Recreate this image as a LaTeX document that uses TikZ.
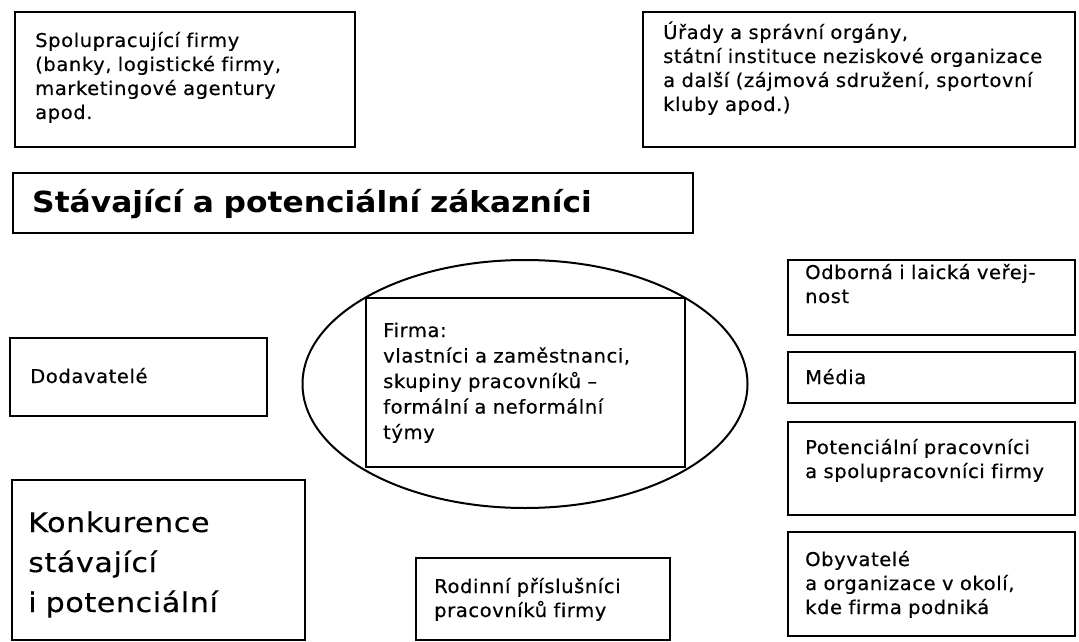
\documentclass[tikz,border=0pt]{standalone}
\usepackage{fontspec}
\setmainfont{DejaVu Sans}
\newfontfamily\smf[FakeStretch=1.03,LetterSpace=3,FakeBold=0.4,Ligatures=NoCommon]{DejaVu Sans}
\newfontfamily\bigf[FakeStretch=1.12,LetterSpace=2,FakeBold=0.3,Ligatures=NoCommon]{DejaVu Sans}
\newfontfamily\headf[FakeStretch=1.08]{DejaVu Sans}
\usetikzlibrary{shapes.geometric}
\tikzset{
  box/.style={draw=black, line width=2.2pt, rectangle, inner sep=0pt, fill=white},
  txt/.style={anchor=base west, inner sep=0pt, text width=420pt, align=left,
              font={\smf\fontsize{19}{24}\selectfont}},
  bigtxt/.style={txt, font={\bigf\fontsize{27}{40}\selectfont}},
  headtxt/.style={txt, text width=680pt, font={\headf\bfseries\fontsize{29}{34}\selectfont}},
}
\begin{document}
\begin{tikzpicture}[x=1pt,y=-1pt]
\useasboundingbox (0,0) rectangle (1079,642);
% boxes
\node[box, minimum width=340pt, minimum height=135pt] (b1) at (185,79.5) {};
\node[box, minimum width=432pt, minimum height=135pt] (b2) at (859,79.5) {};
\node[box, minimum width=680pt, minimum height=60pt] (b3) at (353,203) {};
\node[box, minimum width=257pt, minimum height=78pt] (b4) at (138.5,377) {};
\node[box, minimum width=293pt, minimum height=160pt] (b5) at (158.5,560) {};
\node[box, minimum width=254pt, minimum height=82pt] (b6) at (543,599) {};
\node[draw=black, line width=2pt, ellipse, inner sep=0pt, minimum width=445pt, minimum height=248pt] (ell) at (525,384) {};
\node[box, minimum width=319pt, minimum height=169pt] (firm) at (525.5,382.5) {};
\node[box, minimum width=287pt, minimum height=75pt] (r1) at (931.5,297.5) {};
\node[box, minimum width=287pt, minimum height=51pt] (r2) at (931.5,377.5) {};
\node[box, minimum width=287pt, minimum height=93pt] (r3) at (931.5,468.5) {};
\node[box, minimum width=287pt, minimum height=104pt] (r4) at (931.5,584) {};
% texts
\node[txt] (t1) at (35,47) {Spolupracující firmy\\(banky, logistické firmy,\\marketingové agentury\\apod.};
\node[txt] (t2) at (663,39) {Úřady a správní orgány,\\státní instituce neziskové organizace\\a další (zájmová sdružení, sportovní\\kluby apod.)};
\node[headtxt] (t3) at (32,212) {Stávající a potenciální zákazníci};
\node[txt] (t4) at (30,383) {Dodavatelé};
\node[bigtxt] (t5) at (28,532) {Konkurence\\stávající\\i potenciální};
\node[txt] (t6) at (434,593) {Rodinní příslušníci\\pracovníků firmy};
\node[txt, font={\smf\fontsize{19}{25.5}\selectfont}] (tf) at (383,337) {Firma:\\vlastníci a zaměstnanci,\\skupiny pracovníků –\\formální a neformální\\týmy};
\node[txt] (tr1) at (805,279) {Odborná i laická veřej-\\nost};
\node[txt] (tr2) at (805,384) {Média};
\node[txt] (tr3) at (805,454) {Potenciální pracovníci\\a spolupracovníci firmy};
\node[txt] (tr4) at (805,566) {Obyvatelé\\a organizace v okolí,\\kde firma podniká};
\end{tikzpicture}
\end{document}
